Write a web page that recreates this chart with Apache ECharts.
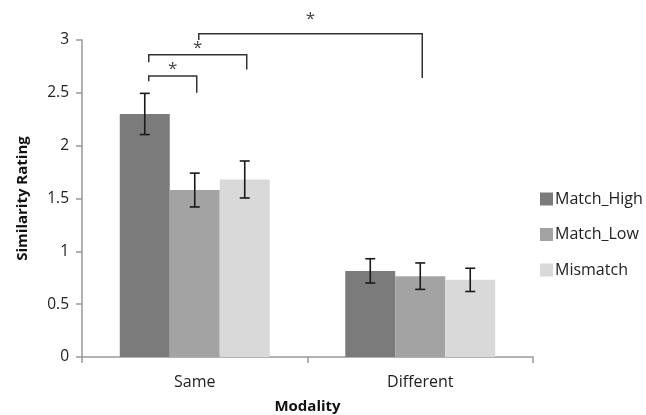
<!DOCTYPE html>
<html><head><meta charset="utf-8">
<script src="https://cdn.jsdelivr.net/npm/echarts@6/dist/echarts.min.js"></script>
<style>html,body{margin:0;padding:0;background:#fff}#c{width:646px;height:415px}</style>
</head><body><div id="c"></div>
<script>
const categories = ['Same', 'Different'];
const seriesNames = ['Match_High', 'Match_Low', 'Mismatch'];
const matchHigh = [2.30, 0.815];
const matchLow = [1.58, 0.765];
const mismatch = [1.68, 0.73];
const matchHighErr = [0.195, 0.115];
const matchLowErr = [0.16, 0.125];
const mismatchErr = [0.175, 0.11];
const yTicks = [0, 0.5, 1, 1.5, 2, 2.5, 3];
// significance brackets
const bracketFrom = [['Same', 'Match_High'], ['Same', 'Match_High'], ['Same', 'Match_Low']];
const bracketTo = [['Same', 'Match_Low'], ['Same', 'Mismatch'], ['Different', 'Match_Low']];
const bracketTopY = [2.66, 2.86, 3.06];
const bracketLeftY = [2.61, 2.79, 3.0];
const bracketRightY = [2.50, 2.72, 2.64];
const bracketStarY = [2.72, 2.92, 3.20];
const bracketLabel = ['*', '*', '*'];

const colors = ['#7b7b7b', '#a3a3a3', '#d9d9d9'];
const values = [matchHigh, matchLow, mismatch];
const errs = [matchHighErr, matchLowErr, mismatchErr];
const GAP = 0.335; // barCategoryGap fraction
const font = '"Open Sans", sans-serif';

function barOffset(api, si) {
  const band = api.size([1, 0])[0];
  const bw = band * (1 - GAP) / 3;
  return (si - 1) * bw;
}

const barSeries = seriesNames.map((n, i) => ({
  name: n, type: 'bar', data: values[i], barGap: '0%', barCategoryGap: (GAP * 100) + '%',
  itemStyle: { color: colors[i] }
}));

const errSeries = seriesNames.map((n, si) => ({
  type: 'custom', name: n + '_err', z: 5,
  data: categories.map((c, ci) => [ci, values[si][ci], errs[si][ci]]),
  renderItem: function (params, api) {
    const ci = api.value(0), v = api.value(1), e = api.value(2);
    const off = barOffset(api, si);
    const top = api.coord([ci, v + e]);
    const bot = api.coord([ci, v - e]);
    const x = top[0] + off, cap = 5;
    const st = { stroke: '#1a1a1a', lineWidth: 1.6 };
    return { type: 'group', children: [
      { type: 'line', shape: { x1: x, y1: top[1], x2: x, y2: bot[1] }, style: st },
      { type: 'line', shape: { x1: x - cap, y1: top[1], x2: x + cap, y2: top[1] }, style: st },
      { type: 'line', shape: { x1: x - cap, y1: bot[1], x2: x + cap, y2: bot[1] }, style: st }
    ]};
  }
}));

const bracketSeries = {
  type: 'custom', name: 'brackets', clip: false, z: 6,
  data: bracketFrom.map((f, i) => [i]),
  renderItem: function (params, api) {
    const i = api.value(0);
    const f = bracketFrom[i], t = bracketTo[i];
    const fx = api.coord([categories.indexOf(f[0]), 0])[0] + barOffset(api, seriesNames.indexOf(f[1])) + 4;
    const tx = api.coord([categories.indexOf(t[0]), 0])[0] + barOffset(api, seriesNames.indexOf(t[1])) + 2;
    const yTop = api.coord([0, bracketTopY[i]])[1];
    const yL = api.coord([0, bracketLeftY[i]])[1];
    const yR = api.coord([0, bracketRightY[i]])[1];
    const yS = api.coord([0, bracketStarY[i]])[1];
    const st = { stroke: '#333', lineWidth: 1.5, fill: null };
    return { type: 'group', children: [
      { type: 'polyline', shape: { points: [[fx, yL], [fx, yTop], [tx, yTop], [tx, yR]] }, style: st },
      { type: 'text', style: { x: (fx + tx) / 2, y: yS, text: bracketLabel[i], fill: '#444', font: '17px ' + font, align: 'center', verticalAlign: 'middle' } }
    ]};
  }
};

const chart = echarts.init(document.getElementById('c'), null, { renderer: 'canvas' });
chart.setOption({
  animation: false,
  textStyle: { fontFamily: font },
  grid: { left: 82, right: 113, top: 40, bottom: 58, outerBoundsMode: 'none', containLabel: false },
  legend: {
    data: seriesNames, orient: 'vertical', left: 535, top: 186, itemGap: 19.5,
    itemWidth: 13, itemHeight: 13, icon: 'rect',
    textStyle: { fontSize: 16, color: '#222', fontFamily: font, padding: [0, 0, 0, -3] }
  },
  xAxis: {
    type: 'category', data: categories, name: 'Modality', nameLocation: 'middle', nameGap: 42,
    nameTextStyle: { fontSize: 15, fontWeight: 'bold', color: '#111', fontFamily: font },
    axisLine: { lineStyle: { color: '#999', width: 1.5 } },
    axisTick: { show: true, length: 6, lineStyle: { color: '#999', width: 1.5 } },
    axisLabel: { fontSize: 16, color: '#222', margin: 17, fontFamily: font }
  },
  yAxis: {
    type: 'value', min: yTicks[0], max: yTicks[yTicks.length - 1], interval: yTicks[1] - yTicks[0],
    name: 'Similarity Rating', nameLocation: 'middle', nameGap: 52, nameRotate: 90,
    nameTextStyle: { fontSize: 15, fontWeight: 'bold', color: '#111', fontFamily: font },
    axisLine: { show: true, lineStyle: { color: '#999', width: 1.5 } },
    axisTick: { show: true, length: 6, lineStyle: { color: '#999', width: 1.5 } },
    splitLine: { show: false },
    axisLabel: { fontSize: 15.5, color: '#222', margin: 13, fontFamily: font }
  },
  series: [...barSeries, ...errSeries, bracketSeries]
});
</script></body></html>
